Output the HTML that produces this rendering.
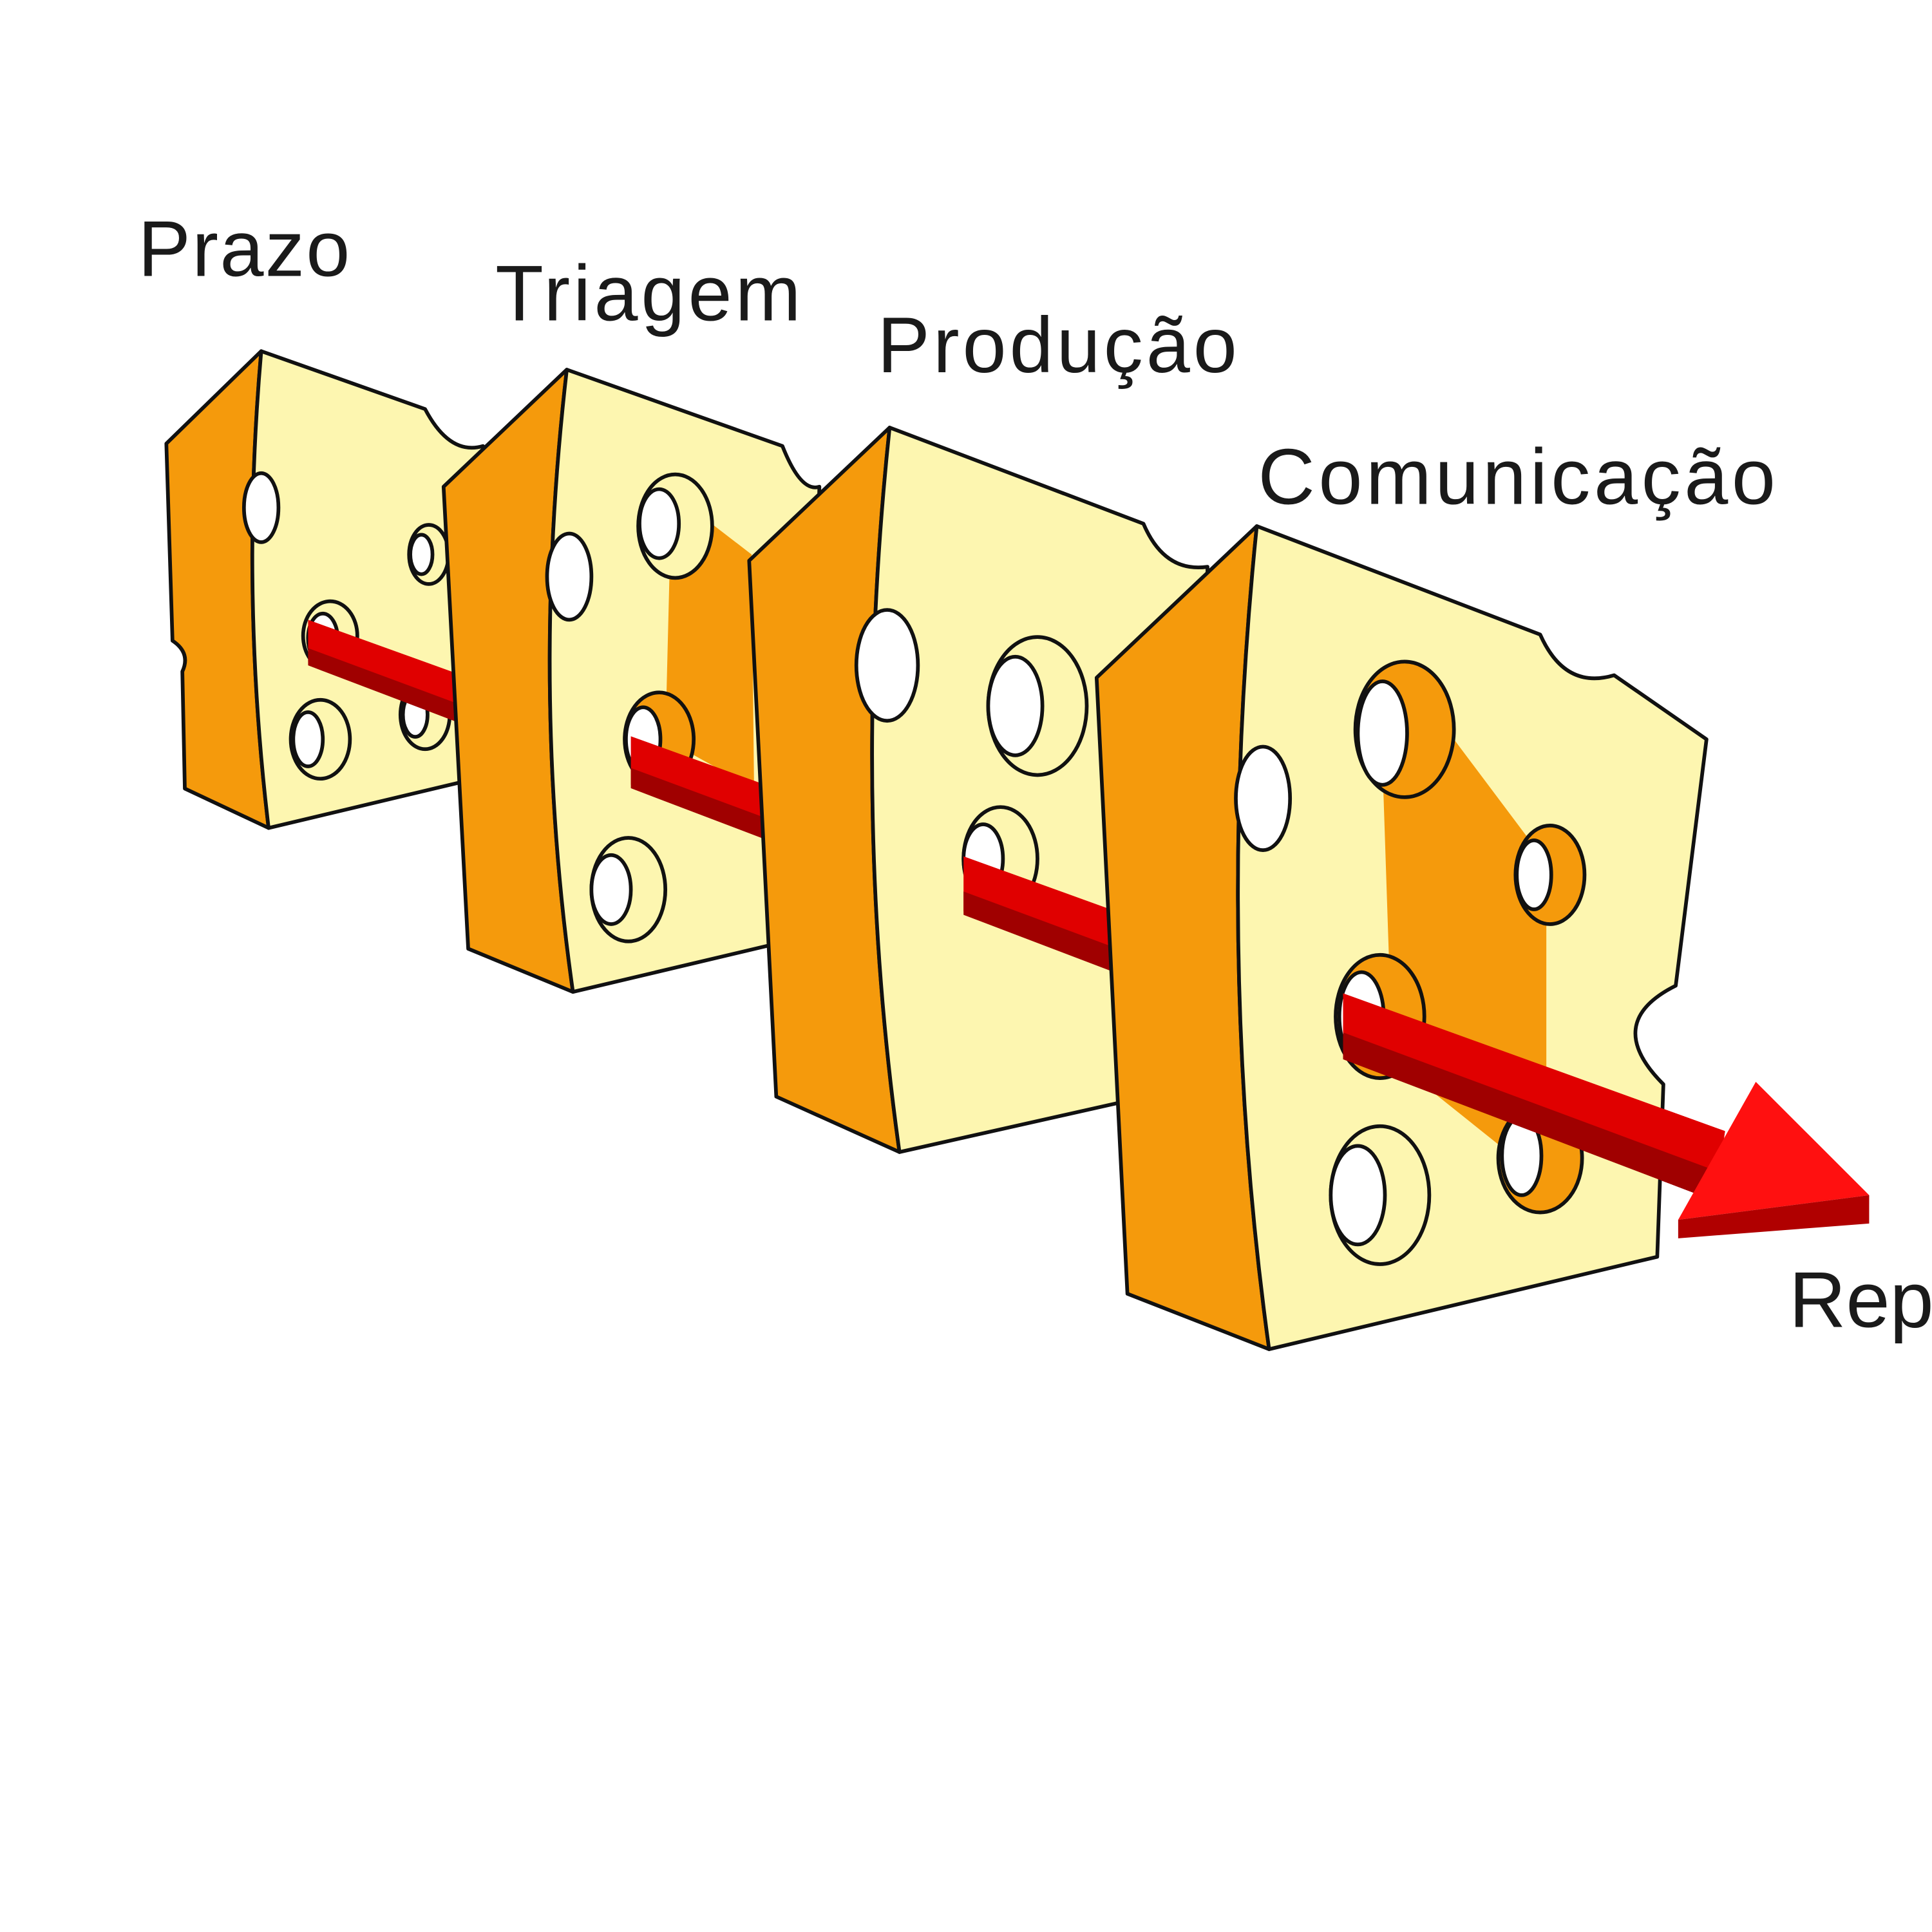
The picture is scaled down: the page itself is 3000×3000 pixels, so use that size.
<!DOCTYPE html>
<html><head><meta charset="utf-8"><style>
html,body{margin:0;padding:0;background:#fff;overflow:hidden}
svg{display:block}
text{font-family:"Liberation Sans",sans-serif;fill:#1a1a1a;font-size:64px}
</style></head><body>
<svg width="3000" height="3000" viewBox="0 0 1568 1568" xmlns="http://www.w3.org/2000/svg">
<defs>
<g id="arr">
<polygon points="250,503 1400,918 1392,972 250,537" fill="#e00000"/>
<polygon points="250,526 1392,950 1385,972 250,540" fill="#a00000"/>
</g>
<clipPath id="c1"><rect x="250" y="0" width="1400" height="1568"/></clipPath>
<clipPath id="c2"><rect x="512" y="0" width="1400" height="1568"/></clipPath>
<clipPath id="c3"><rect x="782" y="0" width="1400" height="1568"/></clipPath>
<clipPath id="c4"><rect x="1090" y="0" width="1400" height="1568"/></clipPath>
</defs>
<rect width="1568" height="1568" fill="#fff"/>
<text x="112" y="224" textLength="172">Prazo</text>
<text x="402" y="260" textLength="248">Triagem</text>
<text x="712" y="302" textLength="292">Produção</text>
<text x="1021" y="409" textLength="420">Comunicação</text>
<text x="1452" y="1077">Rep</text>
<g stroke="#111" stroke-width="3" stroke-linejoin="round">
<path d="M212,285 L135,360 L140,520 Q155,530 148,545 L150,640 L218,672 Q195,480 212,285Z" fill="#f59a0c"/>
<path d="M212,285 L345,332 Q365,370 392,362 L386,632 L218,672 Q195,480 212,285Z" fill="#fdf6b0"/>
<ellipse cx="268" cy="516" rx="22" ry="28" fill="#fdf6b0"/><ellipse cx="262" cy="518" rx="12" ry="20" fill="#fff"/>
<ellipse cx="260" cy="600" rx="24" ry="32" fill="#fdf6b0"/><ellipse cx="250" cy="600" rx="12" ry="22" fill="#fff"/>
<ellipse cx="345" cy="580" rx="20" ry="28" fill="#fdf6b0"/><ellipse cx="337" cy="580" rx="10" ry="18" fill="#fff"/>
<ellipse cx="348" cy="450" rx="16" ry="24" fill="#fdf6b0"/><ellipse cx="342" cy="450" rx="9" ry="16" fill="#fff"/>
<ellipse cx="212" cy="412" rx="14" ry="28" fill="#fff"/>
</g>
<g clip-path="url(#c1)"><use href="#arr"/></g>
<g stroke="#111" stroke-width="3" stroke-linejoin="round">
<path d="M460,300 L360,395 L380,770 L465,805 Q430,560 460,300Z" fill="#f59a0c"/>
<path d="M460,300 L635,362 Q650,400 665,395 L655,760 L465,805 Q430,560 460,300Z" fill="#fdf6b0"/>
<path d="M545,400 L610,450 L612,640 L540,600Z" fill="#f59a0c" stroke="none"/>
<ellipse cx="548" cy="427" rx="30" ry="42" fill="#fdf6b0"/><ellipse cx="535" cy="425" rx="16" ry="28" fill="#fff"/>
<ellipse cx="535" cy="600" rx="28" ry="38" fill="#f59a0c"/><ellipse cx="522" cy="600" rx="14" ry="26" fill="#fff"/>
<ellipse cx="510" cy="722" rx="30" ry="42" fill="#fdf6b0"/><ellipse cx="496" cy="722" rx="16" ry="28" fill="#fff"/>
<ellipse cx="462" cy="468" rx="18" ry="35" fill="#fff"/>
</g>
<g clip-path="url(#c2)"><use href="#arr"/></g>
<g stroke="#111" stroke-width="3" stroke-linejoin="round">
<path d="M722,347 L608,455 L630,890 L730,935 Q690,650 722,347Z" fill="#f59a0c"/>
<path d="M722,347 L928,425 Q945,465 980,460 L975,880 L730,935 Q690,650 722,347Z" fill="#fdf6b0"/>
<ellipse cx="842" cy="573" rx="40" ry="56" fill="#fdf6b0"/><ellipse cx="824" cy="573" rx="22" ry="40" fill="#fff"/>
<ellipse cx="812" cy="697" rx="30" ry="42" fill="#fdf6b0"/><ellipse cx="798" cy="697" rx="16" ry="28" fill="#fff"/>
<ellipse cx="720" cy="540" rx="25" ry="45" fill="#fff"/>
</g>
<g clip-path="url(#c3)"><use href="#arr"/></g>
<g stroke="#111" stroke-width="3" stroke-linejoin="round">
<path d="M1020,427 L890,550 L915,1050 L1030,1095 Q985,770 1020,427Z" fill="#f59a0c"/>
<path d="M1020,427 L1250,515 Q1270,560 1310,548 L1385,600 L1360,800 Q1300,830 1350,880 L1345,1020 L1030,1095 Q985,770 1020,427Z" fill="#fdf6b0"/>
<path d="M1120,560 L1180,600 L1255,700 L1255,960 L1130,860Z" fill="#f59a0c" stroke="none"/>
<ellipse cx="1140" cy="592" rx="40" ry="55" fill="#f59a0c"/><ellipse cx="1122" cy="595" rx="20" ry="42" fill="#fff"/>
<ellipse cx="1258" cy="710" rx="28" ry="40" fill="#f59a0c"/><ellipse cx="1245" cy="710" rx="14" ry="28" fill="#fff"/>
<ellipse cx="1120" cy="825" rx="36" ry="50" fill="#f59a0c"/><ellipse cx="1105" cy="825" rx="18" ry="36" fill="#fff"/>
<ellipse cx="1250" cy="940" rx="34" ry="44" fill="#f59a0c"/><ellipse cx="1235" cy="938" rx="16" ry="32" fill="#fff"/>
<ellipse cx="1120" cy="970" rx="40" ry="56" fill="#fdf6b0"/><ellipse cx="1102" cy="970" rx="22" ry="40" fill="#fff"/>
<ellipse cx="1025" cy="648" rx="22" ry="42" fill="#fff"/>
</g>
<g clip-path="url(#c4)"><use href="#arr"/></g>
<polygon points="1425,878 1517,970 1362,990" fill="#ff1010"/>
<polygon points="1517,970 1517,993 1362,1005 1362,990" fill="#b00000"/>
</svg>
</body></html>
